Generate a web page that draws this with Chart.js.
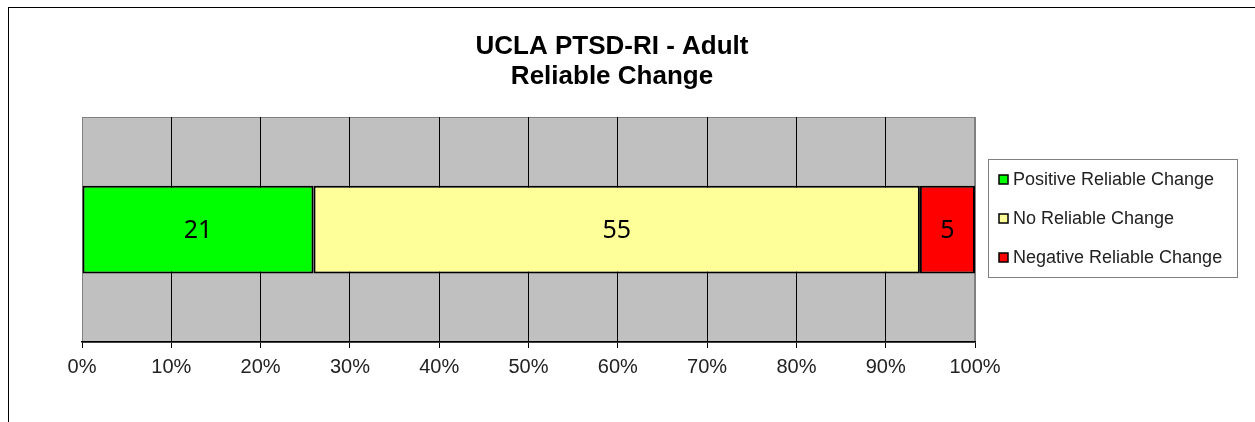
<!DOCTYPE html>
<html>
<head>
<meta charset="utf-8">
<script src="https://cdn.jsdelivr.net/npm/chart.js@4"></script>
<style>
  html, body { margin: 0; padding: 0; background: #fff; overflow: hidden; }
  #frame { position: absolute; left: 8px; top: 7px; width: 1400px; height: 600px; border: 1px solid #000; }
  #wrap { position: absolute; left: 0; top: 0; width: 1255px; height: 422px; }
</style>
</head>
<body>
<div id="frame"></div>
<div id="wrap"><canvas id="reliableChart"></canvas></div>
<script>
// chart values
const titleLines = ['UCLA PTSD-RI - Adult', 'Reliable Change'];
const categories = ['Adult'];
const seriesNames = ['Positive Reliable Change', 'No Reliable Change', 'Negative Reliable Change'];
const seriesCounts = [21, 55, 5];
const seriesColors = ['#00FF00', '#FFFF99', '#FF0000'];
const tickLabels = ['0%', '10%', '20%', '30%', '40%', '50%', '60%', '70%', '80%', '90%', '100%'];

const total = seriesCounts.reduce((a, b) => a + b, 0);

const datasets = seriesNames.map((name, i) => ({
    label: name,
    data: [seriesCounts[i] / total * 100],
    count: seriesCounts[i],
    backgroundColor: seriesColors[i],
    borderColor: '#000',
    borderWidth: 2,
    borderSkipped: false,
    barPercentage: 1,
    categoryPercentage: 0.39
}));

// gray plot area + border
const plotBackground = {
    id: 'plotBackground',
    beforeDraw(chart) {
        const { ctx, chartArea: a } = chart;
        ctx.save();
        ctx.fillStyle = '#C0C0C0';
        ctx.fillRect(a.left, a.top, a.right - a.left, a.bottom - a.top);
        ctx.strokeStyle = '#808080';
        ctx.lineWidth = 1;
        ctx.strokeRect(a.left + 0.5, a.top + 0.5, a.right - a.left - 1, a.bottom - a.top);
        ctx.restore();
    }
};

// counts drawn in the middle of each segment
const countLabels = {
    id: 'countLabels',
    afterDatasetsDraw(chart) {
        const ctx = chart.ctx;
        ctx.save();
        ctx.font = '25px "Noto Sans", sans-serif';
        ctx.fillStyle = '#000';
        ctx.textAlign = 'center';
        ctx.textBaseline = 'middle';
        chart.data.datasets.forEach((ds, i) => {
            chart.getDatasetMeta(i).data.forEach((bar) => {
                const mid = (bar.x + bar.base) / 2;
                ctx.fillText(String(ds.count), mid, bar.y + 1);
            });
        });
        ctx.restore();
    }
};

// two line title + boxed legend on the right
const titleAndLegend = {
    id: 'titleAndLegend',
    afterDraw(chart) {
        const ctx = chart.ctx;
        ctx.save();
        ctx.fillStyle = '#000';
        ctx.font = 'bold 26px "Liberation Sans", Arial, sans-serif';
        ctx.textAlign = 'center';
        ctx.textBaseline = 'middle';
        titleLines.forEach((t, i) => ctx.fillText(t, 612, 47 + i * 29.5));

        const lx = 988, ly = 159, lw = 249, lh = 118;
        ctx.fillStyle = '#fff';
        ctx.fillRect(lx, ly, lw, lh);
        ctx.strokeStyle = '#808080';
        ctx.lineWidth = 1;
        ctx.strokeRect(lx + 0.5, ly + 0.5, lw, lh);

        ctx.font = '18px "Liberation Sans", Arial, sans-serif';
        ctx.textAlign = 'left';
        chart.data.datasets.forEach((ds, i) => {
            const cy = 179 + i * 39;
            ctx.fillStyle = ds.backgroundColor;
            ctx.fillRect(999, cy - 4, 9, 9);
            ctx.strokeStyle = '#000';
            ctx.lineWidth = 1.5;
            ctx.strokeRect(999, cy - 4, 9, 9);
            ctx.fillStyle = '#222';
            ctx.fillText(ds.label, 1013, cy + 1);
        });
        ctx.restore();
    }
};

const config = {
    type: 'bar',
    data: {
        labels: categories,
        datasets: datasets
    },
    options: {
        indexAxis: 'y',
        responsive: true,
        maintainAspectRatio: false,
        animation: false,
        layout: {
            padding: { left: 82, right: 280, top: 117, bottom: 36 }
        },
        scales: {
            x: {
                stacked: true,
                min: 0,
                max: 100,
                ticks: {
                    stepSize: 10,
                    padding: 7,
                    color: '#222',
                    font: { family: '"Liberation Sans", Arial, sans-serif', size: 20 },
                    callback: (v, i) => tickLabels[i]
                },
                grid: {
                    color: (c) => (c.index === 0 || c.index === 10) ? '#808080' : '#000',
                    tickColor: '#000',
                    tickLength: 6,
                    lineWidth: 1
                },
                border: { display: true, color: '#000', width: 1.5 }
            },
            y: {
                stacked: true,
                display: false
            }
        },
        plugins: {
            legend: { display: false },
            title: { display: false },
            tooltip: { enabled: false }
        }
    },
    plugins: [plotBackground, countLabels, titleAndLegend]
};

const reliableChart = new Chart(document.getElementById('reliableChart').getContext('2d'), config);
</script>
</body>
</html>
